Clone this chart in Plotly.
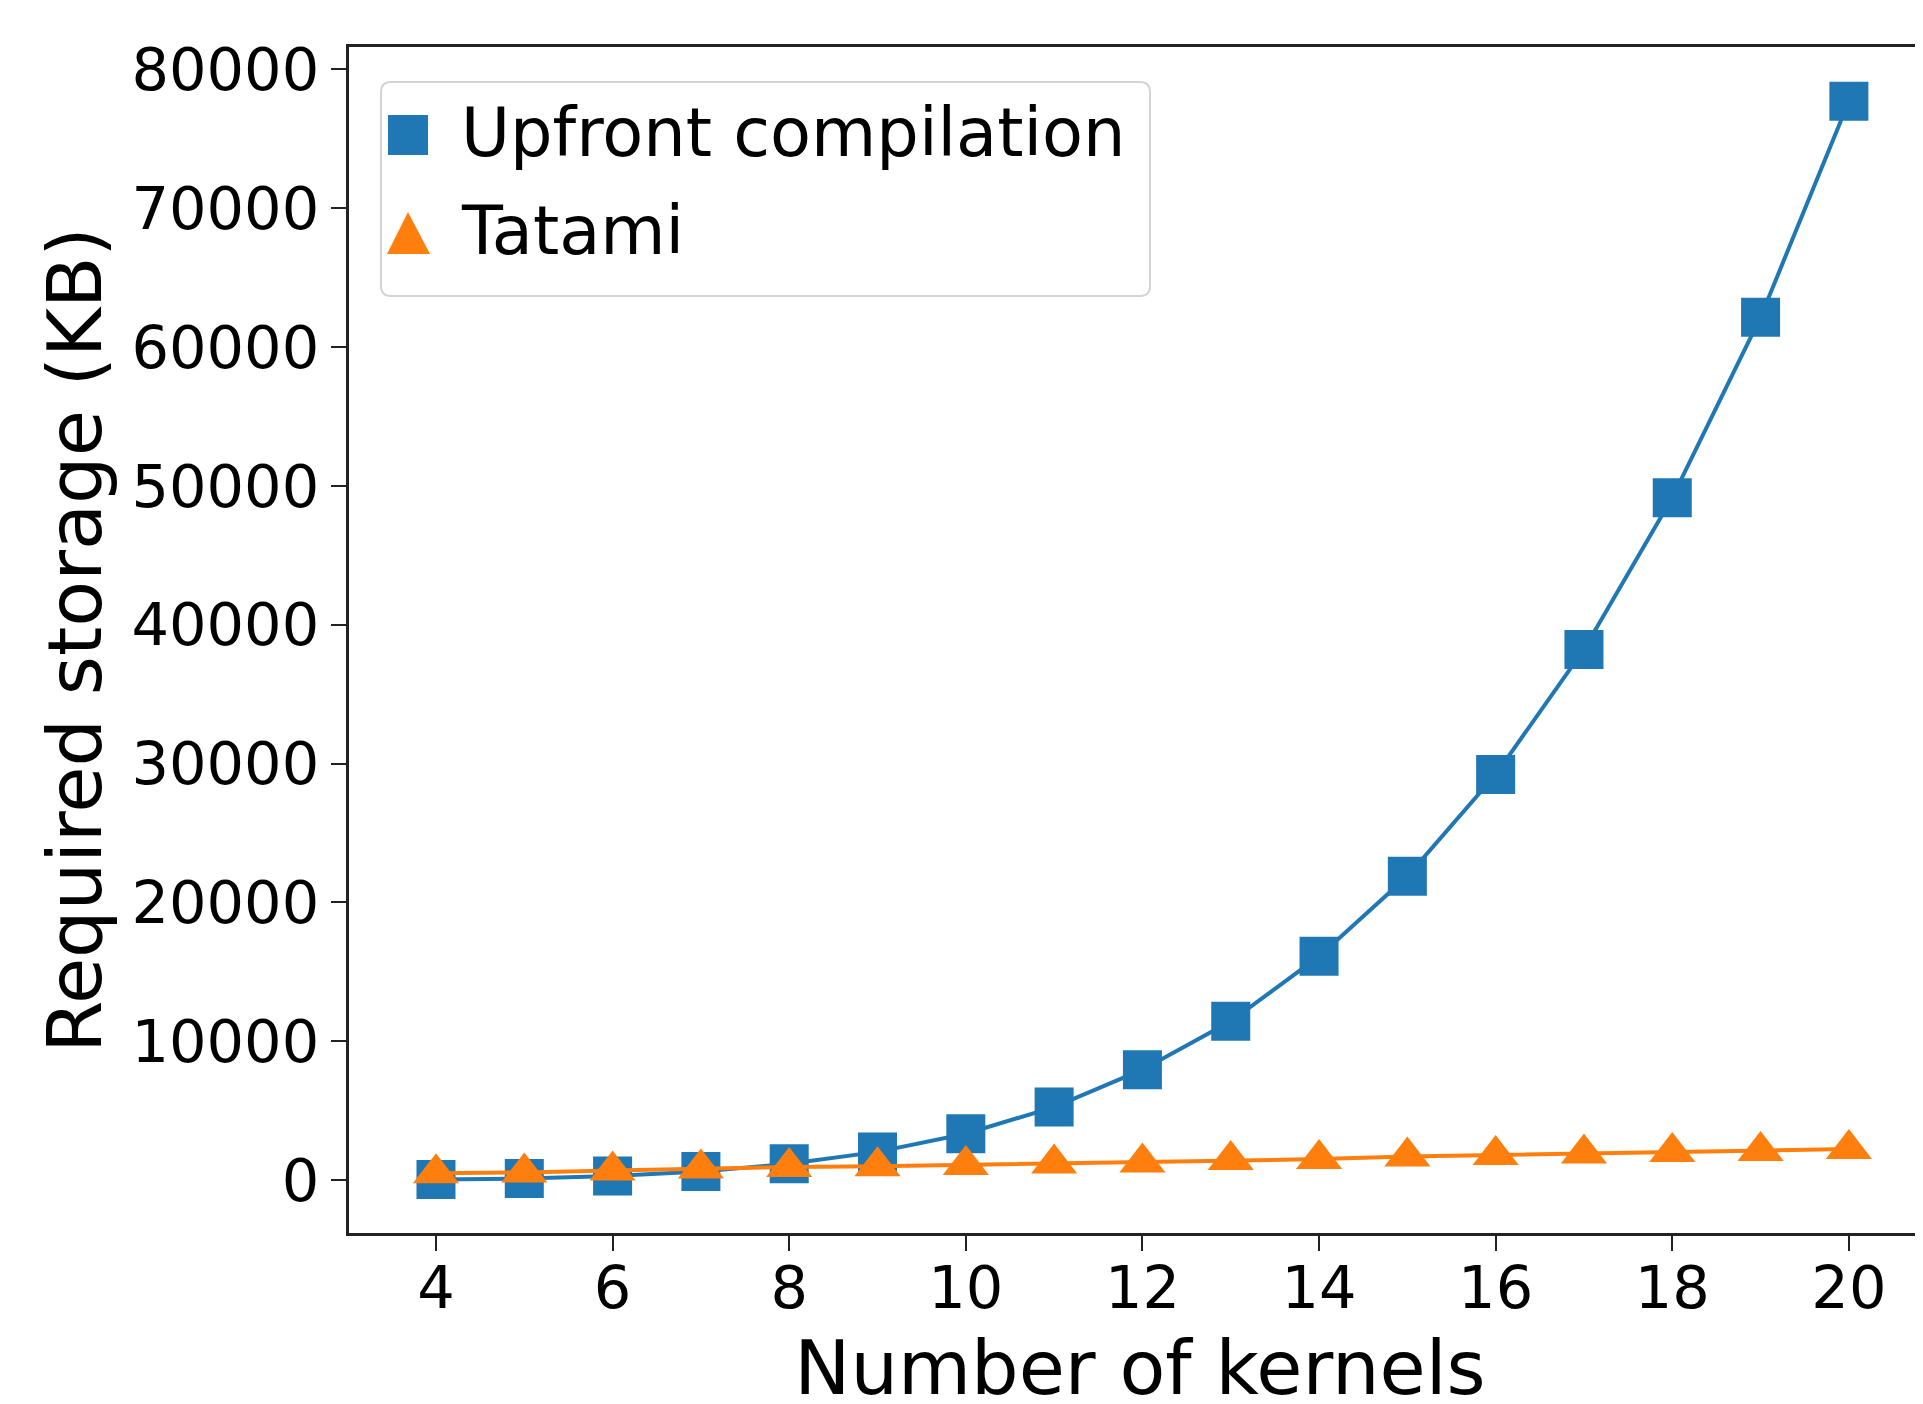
import plotly.graph_objects as go

kernels = [4, 5, 6, 7, 8, 9, 10, 11, 12, 13, 14, 15, 16, 17, 18, 19, 20]
upfront = [50, 120, 300, 620, 1190, 2040, 3350, 5270, 7960, 11440, 16120,
           21890, 29210, 38220, 49150, 62140, 77700]
tatami = [500, 560, 700, 850, 950, 1000, 1100, 1210, 1280, 1450, 1520,
          1700, 1820, 1920, 2040, 2110, 2250]
series_names = ["Upfront compilation", "Tatami"]

x_ticks = [4, 6, 8, 10, 12, 14, 16, 18, 20]
y_ticks = [0, 10000, 20000, 30000, 40000, 50000, 60000, 70000, 80000]

BLUE = "#1f77b4"
ORANGE = "#ff7f0e"
FONT = "DejaVu Sans"

# page offset (body margin) compensation and plot-area geometry (px)
OFF = 8
W, H = 1923, 1404
L, T, B = 341, 39, 179
PX0, PX1 = L + OFF, W + OFF          # plot area in page px
PY0, PY1 = T + OFF, OFF + H - B


def px(x):
    return (x - PX0) / (PX1 - PX0)


def py(y):
    return (PY1 - y) / (PY1 - PY0)


fig = go.Figure()
fig.add_trace(go.Scatter(x=kernels, y=upfront, mode="lines",
                         line=dict(color=BLUE, width=4),
                         showlegend=False, hoverinfo="skip"))
fig.add_trace(go.Scatter(x=kernels, y=upfront, mode="markers",
                         name=series_names[0], showlegend=False,
                         marker=dict(symbol="square", size=39, color=BLUE)))
fig.add_trace(go.Scatter(x=kernels, y=tatami, mode="lines",
                         line=dict(color=ORANGE, width=4),
                         showlegend=False, hoverinfo="skip"))
fig.add_trace(go.Scatter(x=kernels, y=tatami, mode="markers",
                         name=series_names[1], showlegend=False,
                         marker=dict(symbol="triangle-up", size=40, color=ORANGE)))

# custom legend (matplotlib-like, large handles, rounded frame)
bx0, bx1, by0, by1, rad = 381, 1150, 82, 296, 10
rx = rad / (PX1 - PX0)
ry = rad / (PY1 - PY0)
X0, X1, Y0, Y1 = px(bx0), px(bx1), py(by1), py(by0)
frame = (f"M{X0 + rx},{Y0} L{X1 - rx},{Y0} Q{X1},{Y0} {X1},{Y0 + ry} "
         f"L{X1},{Y1 - ry} Q{X1},{Y1} {X1 - rx},{Y1} L{X0 + rx},{Y1} "
         f"Q{X0},{Y1} {X0},{Y1 - ry} L{X0},{Y0 + ry} Q{X0},{Y0} {X0 + rx},{Y0} Z")
shapes = [
    dict(type="path", xref="paper", yref="paper", path=frame,
         fillcolor="rgba(255,255,255,0.8)", line=dict(color="#d4d4d4", width=2),
         layer="above"),
    dict(type="rect", xref="paper", yref="paper",
         x0=px(388), x1=px(428), y0=py(155), y1=py(115),
         fillcolor=BLUE, line=dict(width=0), layer="above"),
    dict(type="path", xref="paper", yref="paper",
         path=f"M{px(408)},{py(212)} L{px(387)},{py(254)} L{px(430)},{py(254)} Z",
         fillcolor=ORANGE, line=dict(width=0), layer="above"),
]
annotations = [
    dict(xref="paper", yref="paper", x=px(459), y=py(133), xanchor="left",
         yanchor="middle", text=series_names[0], showarrow=False,
         font=dict(family=FONT, size=67, color="black")),
    dict(xref="paper", yref="paper", x=px(459), y=py(231), xanchor="left",
         yanchor="middle", text=series_names[1], showarrow=False,
         font=dict(family=FONT, size=67, color="black")),
]

fig.update_layout(
    width=W, height=H,
    margin=dict(l=L, r=0, t=T, b=B),
    paper_bgcolor="white", plot_bgcolor="white",
    font=dict(family=FONT, color="black", size=59),
    showlegend=False,
    shapes=shapes, annotations=annotations,
    xaxis=dict(
        range=[3.015, 20.93], tickmode="array", tickvals=x_ticks,
        ticktext=[str(v) for v in x_ticks],
        showgrid=False, zeroline=False,
        showline=True, linecolor="#222", linewidth=3, mirror=True,
        ticks="outside", ticklen=15, tickwidth=2, tickcolor="#222",
        ticklabelstandoff=-14,
        tickfont=dict(family=FONT, size=59, color="black"),
        title=dict(text="Number of kernels", font=dict(family=FONT, size=75, color="black"),
                   standoff=22),
    ),
    yaxis=dict(
        range=[-3800, 81600], tickmode="array", tickvals=y_ticks,
        ticktext=[str(v) for v in y_ticks],
        showgrid=False, zeroline=False,
        showline=True, linecolor="#222", linewidth=3, mirror=False,
        ticks="outside", ticklen=15, tickwidth=2, tickcolor="#222",
        tickfont=dict(family=FONT, size=59, color="black"),
        title=dict(text="Required storage (KB)", font=dict(family=FONT, size=75, color="black"),
                   standoff=6),
    ),
)

fig.write_html("out.html")
